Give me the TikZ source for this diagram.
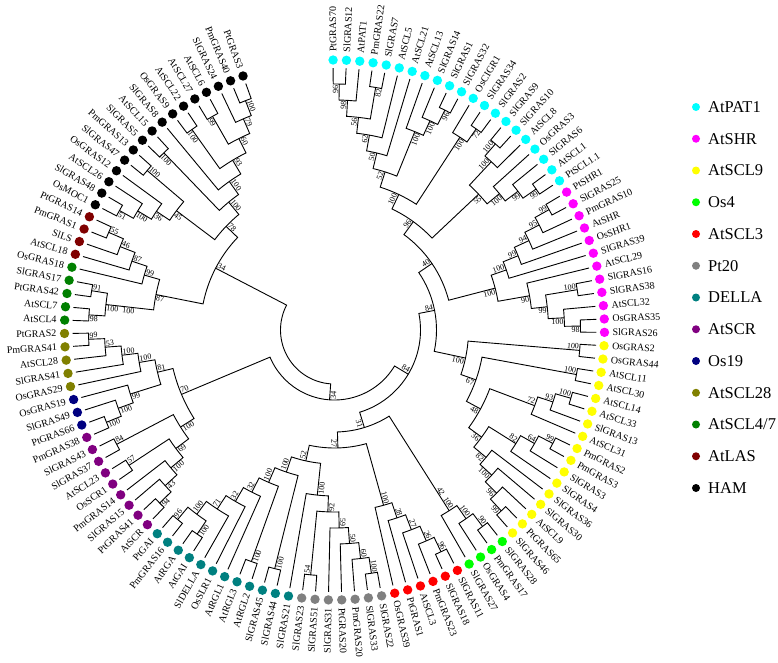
\documentclass[tikz,border=0pt]{standalone}
\usepackage{fontspec}
\setmainfont{Liberation Serif}
\usetikzlibrary{positioning}

\definecolor{cPAT}{RGB}{0,255,255}
\definecolor{cSHR}{RGB}{255,0,255}
\definecolor{cSCLnine}{RGB}{255,255,0}
\definecolor{cOsfour}{RGB}{0,255,0}
\definecolor{cSCLthree}{RGB}{255,0,0}
\definecolor{cPt}{RGB}{128,128,128}
\definecolor{cDELLA}{RGB}{0,128,128}
\definecolor{cSCR}{RGB}{128,0,128}
\definecolor{cOsnineteen}{RGB}{0,0,128}
\definecolor{cSCLtwe}{RGB}{128,128,0}
\definecolor{cSCLfour}{RGB}{0,128,0}
\definecolor{cLAS}{RGB}{128,0,0}
\definecolor{cHAM}{RGB}{0,0,0}

\tikzset{
  branch/.style={line width=0.9pt, line join=miter},
  boot/.style={font=\fontsize{8}{8}\selectfont, inner sep=0.8pt},
  taxon/.style={font=\fontsize{10}{10}\selectfont, inner sep=0pt},
  dot/.style={circle, inner sep=0pt, minimum size=9.4pt},
  legtext/.style={font=\fontsize{16.5}{16.5}\selectfont, anchor=west, inner sep=0pt}
}

% leaf: index, name, colour
\newcommand{\taxonleaf}[3]{%
  \pgfmathsetmacro{\lang}{90.3-2.8375*#1}%
  \expandafter\xdef\csname angL#1\endcsname{\lang}%
  \expandafter\xdef\csname radL#1\endcsname{262}%
  \expandafter\xdef\csname labL#1\endcsname{}%
  \node[dot, fill=#3] (d#1) at (\lang:270) {};%
  \pgfmathtruncatemacro{\lflip}{and(mod(\lang+720,360)>90.5, mod(\lang+720,360)<270)}%
  \ifnum\lflip=1
    \node[taxon, rotate=\lang+180, anchor=east] (t#1) at (\lang:278) {#2};%
  \else
    \node[taxon, rotate=\lang, anchor=west] (t#1) at (\lang:278) {#2};%
  \fi}

% support value of a node, on its free side (1 = counter-clockwise)
\newcommand{\bootlab}[2]{%
  \edef\bootT{\csname lab#1\endcsname}%
  \ifx\bootT\empty\else
    \edef\bootA{\csname ang#1\endcsname}%
    \edef\bootR{\csname rad#1\endcsname}%
    \pgfmathtruncatemacro{\bflip}{and(mod(\bootA+720,360)>90, mod(\bootA+720,360)<270)}%
    \ifnum\bflip=1
      \ifnum#2=1 \def\banc{north west}\else\def\banc{south west}\fi
      \node[boot, rotate=\bootA+180, anchor=\banc] (b#1) at (\bootA:\bootR) {\bootT};%
    \else
      \ifnum#2=1 \def\banc{south east}\else\def\banc{north east}\fi
      \node[boot, rotate=\bootA, anchor=\banc] (b#1) at (\bootA:\bootR) {\bootT};%
    \fi
  \fi}

% clade: name, child, child, level, support
\newcommand{\mkclade}[5]{%
  \pgfmathsetmacro{\crad}{262-16*#4}%
  \edef\angA{\csname ang#2\endcsname}%
  \edef\angB{\csname ang#3\endcsname}%
  \edef\radA{\csname rad#2\endcsname}%
  \edef\radB{\csname rad#3\endcsname}%
  \pgfmathsetmacro{\angM}{(\angA+\angB)/2}%
  \draw[branch] (\angA:\radA) -- (\angA:\crad) arc[start angle=\angA, end angle=\angB, radius=\crad] -- (\angB:\radB);%
  \def\chA{#2}\def\chB{#3}%
  \ifx\chA\chB
    \bootlab{#2}{1}%
  \else
    \bootlab{#2}{1}\bootlab{#3}{0}%
  \fi
  \expandafter\xdef\csname ang#1\endcsname{\angM}%
  \expandafter\xdef\csname rad#1\endcsname{\crad}%
  \expandafter\xdef\csname lab#1\endcsname{#5}}

\begin{document}
\begin{tikzpicture}[x=1pt, y=1pt]
\useasboundingbox (-334.5,-332) rectangle (443.5,330);

\foreach \nm/\col [count=\i from 0] in {
PtGRAS70/cPAT, SlGRAS12/cPAT, AtPAT1/cPAT, PmGRAS22/cPAT, SlGRAS7/cPAT, AtSCL5/cPAT, AtSCL21/cPAT, AtSCL13/cPAT, SlGRAS14/cPAT, SlGRAS1/cPAT,
SlGRAS32/cPAT, OsCIGR1/cPAT, SlGRAS34/cPAT, SlGRAS2/cPAT, SlGRAS9/cPAT, SlGRAS10/cPAT, AtSCL8/cPAT, OsGRAS3/cPAT, SlGRAS6/cPAT, AtSCL1/cPAT,
PtSCL1.1/cPAT, PtSHR1/cSHR, SlGRAS25/cSHR, PmGRAS10/cSHR, AtSHR/cSHR, OsSHR1/cSHR, SlGRAS39/cSHR, AtSCL29/cSHR, SlGRAS16/cSHR, SlGRAS38/cSHR,
AtSCL32/cSHR, OsGRAS35/cSHR, SlGRAS26/cSHR, OsGRAS2/cSCLnine, OsGRAS44/cSCLnine, AtSCL11/cSCLnine, AtSCL30/cSCLnine, AtSCL14/cSCLnine, AtSCL33/cSCLnine, SlGRAS13/cSCLnine,
AtSCL31/cSCLnine, PmGRAS2/cSCLnine, PmGRAS3/cSCLnine, SlGRAS3/cSCLnine, SlGRAS4/cSCLnine, SlGRAS36/cSCLnine, SlGRAS30/cSCLnine, AtSCL9/cSCLnine, PtGRAS65/cSCLnine, SlGRAS46/cSCLnine,
SlGRAS28/cOsfour, PmGRAS17/cOsfour, OsGRAS4/cOsfour, SlGRAS27/cOsfour, SlGRAS11/cSCLthree, SlGRAS18/cSCLthree, PmGRAS23/cSCLthree, AtSCL3/cSCLthree, PtGRAS1/cSCLthree, OsGRAS39/cSCLthree,
SlGRAS22/cPt, SlGRAS33/cPt, PmGRAS20/cPt, PtGRAS20/cPt, SlGRAS31/cPt, SlGRAS51/cPt, SlGRAS23/cPt, SlGRAS21/cDELLA, SlGRAS44/cDELLA, SlGRAS45/cDELLA,
AtRGL2/cDELLA, AtRGL3/cDELLA, AtRGL1/cDELLA, OsSLR1/cDELLA, SlDELLA/cDELLA, AtGAI/cDELLA, AtRGA/cDELLA, PmGRAS16/cDELLA, PtGAI/cDELLA, AtSCR/cSCR,
PtGRAS41/cSCR, SlGRAS15/cSCR, PmGRAS14/cSCR, OsSCR1/cSCR, AtSCL23/cSCR, SlGRAS37/cSCR, SlGRAS43/cSCR, PmGRAS38/cSCR, PtGRAS66/cOsnineteen, SlGRAS49/cOsnineteen,
OsGRAS19/cOsnineteen, OsGRAS29/cSCLtwe, SlGRAS41/cSCLtwe, AtSCL28/cSCLtwe, PmGRAS41/cSCLtwe, PtGRAS2/cSCLtwe, AtSCL4/cSCLfour, AtSCL7/cSCLfour, PtGRAS42/cSCLfour, SlGRAS17/cSCLfour,
OsGRAS18/cSCLfour, AtSCL18/cLAS, SlLS/cLAS, PmGRAS1/cLAS, PtGRAS14/cLAS, OsMOC1/cHAM, SlGRAS48/cHAM, AtSCL26/cHAM, OsGRAS12/cHAM, SlGRAS47/cHAM,
PmGRAS13/cHAM, SlGRAS5/cHAM, AtSCL15/cHAM, SlGRAS8/cHAM, OsGRAS9/cHAM, AtSCL22/cHAM, AtSCL27/cHAM, AtSCL6/cHAM, SlGRAS24/cHAM, PmGRAS40/cHAM,
PtGRAS3/cHAM}
  {\taxonleaf{\i}{\nm}{\col}}

% PAT1
\mkclade{c1}{L0}{L1}{1}{96}
\mkclade{c2}{c1}{L2}{2}{98}
\mkclade{c3}{L3}{L4}{1}{82}
\mkclade{c4}{c2}{c3}{3}{56}
\mkclade{c5}{c4}{L5}{4}{62}
\mkclade{c6}{c5}{L6}{5}{50}
\mkclade{c7}{L9}{L10}{1}{96}
\mkclade{c8}{L8}{c7}{2}{100}
\mkclade{c8b}{L7}{c8}{3}{100}
\mkclade{c9}{c6}{c8b}{6}{52}
\mkclade{x1}{L12}{L13}{1}{72}
\mkclade{x2}{L11}{x1}{2}{100}
\mkclade{c15}{c9}{x2}{7}{100}
\mkclade{d1}{L14}{L15}{1}{100}
\mkclade{d2}{d1}{L16}{2}{100}
\mkclade{d3}{L19}{L20}{1}{99}
\mkclade{d4}{L18}{d3}{2}{99}
\mkclade{d5}{L17}{d4}{3}{100}
\mkclade{d6}{d2}{d5}{4}{55}
\mkclade{c20}{c15}{d6}{8}{96}
% SHR
\mkclade{s1}{L21}{L22}{1}{99}
\mkclade{s2}{s1}{L23}{2}{95}
\mkclade{s3}{s2}{L24}{3}{94}
\mkclade{s4}{s3}{L25}{4}{99}
\mkclade{s5}{s4}{L26}{5}{100}
\mkclade{m6}{L28}{L29}{1}{100}
\mkclade{m7}{L31}{L32}{1}{98}
\mkclade{m8}{L30}{m7}{2}{100}
\mkclade{m9}{m6}{m8}{3}{99}
\mkclade{m10}{L27}{m9}{4}{90}
\mkclade{m11}{s5}{m10}{6}{100}
\mkclade{pa}{c20}{m11}{9}{40}
% SCL9
\mkclade{y1}{L33}{L34}{1}{100}
\mkclade{y2}{L35}{L36}{1}{100}
\mkclade{y3}{L37}{L38}{1}{100}
\mkclade{y4}{y3}{L39}{2}{93}
\mkclade{y5}{y4}{L40}{3}{72}
\mkclade{y6}{L41}{L42}{1}{99}
\mkclade{y7}{y6}{L43}{2}{64}
\mkclade{y8}{y7}{L44}{3}{82}
\mkclade{z1}{L48}{L49}{1}{99}
\mkclade{z2}{L47}{z1}{2}{96}
\mkclade{z3}{L46}{z2}{3}{100}
\mkclade{z4}{L45}{z3}{4}{82}
\mkclade{y36}{y8}{z4}{5}{36}
\mkclade{y48}{y5}{y36}{6}{48}
\mkclade{y67}{y2}{y48}{7}{67}
\mkclade{yr}{y1}{y67}{8}{100}
\mkclade{up}{pa}{yr}{10}{84}
% Os4, SCL3
\mkclade{g1}{L50}{L51}{1}{90}
\mkclade{g2}{g1}{L52}{2}{100}
\mkclade{g3}{g2}{L53}{3}{100}
\mkclade{g4}{g3}{g3}{4}{42}
\mkclade{r1}{L54}{L55}{1}{96}
\mkclade{r2}{r1}{L56}{2}{26}
\mkclade{r3}{r2}{L57}{3}{27}
\mkclade{r4}{r3}{L58}{4}{28}
\mkclade{r5}{r4}{L59}{5}{100}
% Pt20, DELLA
\mkclade{q1}{L60}{L61}{1}{100}
\mkclade{q2}{q1}{L62}{2}{60}
\mkclade{q3}{q2}{L63}{3}{50}
\mkclade{q4}{q3}{L64}{4}{59}
\mkclade{q5}{L65}{L66}{1}{54}
\mkclade{q6}{q4}{q5}{5}{92}
\mkclade{q7}{q6}{L67}{6}{100}
\mkclade{t1}{L68}{L69}{1}{100}
\mkclade{t2}{L70}{L71}{1}{100}
\mkclade{t3}{L75}{L76}{1}{100}
\mkclade{t4}{L77}{L78}{1}{96}
\mkclade{t5}{t3}{t4}{2}{100}
\mkclade{t6}{L74}{t5}{3}{71}
\mkclade{t7}{L73}{t6}{4}{32}
\mkclade{t8}{L72}{t7}{5}{32}
\mkclade{t9}{t2}{t8}{6}{100}
\mkclade{t10}{t1}{t9}{7}{100}
\mkclade{lo52}{q7}{t10}{8}{52}
\mkclade{lo27}{r5}{lo52}{9}{27}
\mkclade{lo31}{g4}{lo27}{10}{31}
\mkclade{yy}{up}{lo31}{11}{84}
% SCR, Os19, SCL28
\mkclade{p1}{L79}{L80}{1}{94}
\mkclade{p2}{p1}{L81}{2}{43}
\mkclade{p3}{L83}{L84}{1}{57}
\mkclade{p5}{p2}{L82}{3}{100}
\mkclade{p6}{p5}{p3}{4}{69}
\mkclade{pq}{L85}{L86}{1}{84}
\mkclade{p7}{p6}{pq}{5}{100}
\mkclade{n1}{L87}{L88}{1}{100}
\mkclade{n2}{n1}{L89}{2}{100}
\mkclade{n3}{n2}{L90}{3}{99}
\mkclade{o1}{L94}{L95}{1}{99}
\mkclade{o2}{L93}{o1}{2}{53}
\mkclade{o3}{L92}{o2}{3}{100}
\mkclade{o4}{L91}{o3}{4}{100}
\mkclade{on}{n3}{o4}{5}{81}
\mkclade{so}{p7}{on}{6}{70}
\mkclade{xx}{yy}{so}{12}{34}
% SCL4/7, LAS, HAM
\mkclade{e1}{L96}{L97}{1}{98}
\mkclade{e2}{L98}{L99}{1}{91}
\mkclade{e3}{e1}{e2}{2}{100}
\mkclade{e3b}{e3}{e3}{3}{100}
\mkclade{a1}{L103}{L104}{1}{55}
\mkclade{a2}{L102}{a1}{2}{46}
\mkclade{a3}{L101}{a2}{3}{87}
\mkclade{a4}{L100}{a3}{4}{99}
\mkclade{g87}{e3b}{a4}{5}{87}
\mkclade{k51}{L105}{L106}{1}{51}
\mkclade{k100}{k51}{L107}{2}{100}
\mkclade{k36}{k100}{L108}{3}{36}
\mkclade{k109}{L109}{L110}{1}{100}
\mkclade{k45}{k36}{k109}{4}{45}
\mkclade{k111}{L111}{L112}{1}{100}
\mkclade{kx}{L114}{L115}{1}{100}
\mkclade{k3}{L116}{L117}{1}{99}
\mkclade{k1}{L119}{L120}{1}{100}
\mkclade{k2}{L118}{k1}{2}{79}
\mkclade{k4}{k3}{k2}{3}{60}
\mkclade{k5}{kx}{k4}{4}{93}
\mkclade{k6}{L113}{k5}{5}{100}
\mkclade{k7}{k111}{k6}{6}{100}
\mkclade{k78}{k45}{k7}{7}{78}
\mkclade{up34}{g87}{k78}{8}{34}
\mkclade{root}{xx}{up34}{13}{}

% legend
\foreach \col/\txt [count=\k from 0] in {cPAT/AtPAT1, cSHR/AtSHR, cSCLnine/AtSCL9, cOsfour/Os4, cSCLthree/AtSCL3, cPt/Pt20, cDELLA/DELLA, cSCR/AtSCR, cOsnineteen/Os19, cSCLtwe/AtSCL28, cSCLfour/{AtSCL4/7}, cLAS/AtLAS, cHAM/HAM}{
  \node[dot, fill=\col, minimum size=8pt] (k\k) at (361.5, 223-31.75*\k) {};
  \node[legtext] (g\k) at (373.5, 223-31.75*\k) {\txt};
}
\end{tikzpicture}
\end{document}
